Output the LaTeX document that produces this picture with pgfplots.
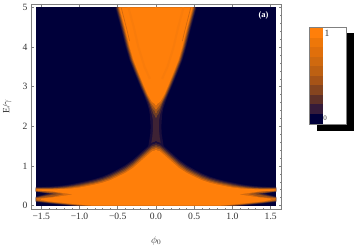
\documentclass[border=0pt]{standalone}
\usepackage{pgfplots}
\usepackage{pgfplotstable}
\usepackage{fontspec}
\setmainfont{Liberation Serif}
\pgfplotsset{compat=1.18}
\definecolor{navy}{HTML}{00003A}
\definecolor{lA}{HTML}{1A0E3C}
\definecolor{lB}{HTML}{3E2234}
\definecolor{lC}{HTML}{6E3E26}
\definecolor{lD}{HTML}{A0541A}
\definecolor{lE}{HTML}{D46A0E}
\definecolor{lF}{HTML}{FF7F0A}
\definecolor{fr}{HTML}{808080}
\definecolor{tx}{HTML}{333333}
% upper cone, half contours (x = half width, y = energy)
\pgfplotstableread[row sep=\\]{x y\\ -0.01 5\\ 0.53 5\\ 0.46 4.5\\ 0.395 4\\ 0.345 3.67\\ 0.275 3.33\\ 0.205 3\\ 0.16 2.8\\ 0.12 2.6\\ 0.095 2.45\\ 0.08 2.3\\ 0.07 2.0\\ 0.075 1.8\\ 0.10 1.5\\ -0.01 1.5\\}\upA
\pgfplotstableread[row sep=\\]{x y\\ -0.01 5\\ 0.52 5\\ 0.45 4.5\\ 0.385 4\\ 0.335 3.67\\ 0.265 3.33\\ 0.195 3\\ 0.15 2.8\\ 0.105 2.6\\ 0.08 2.45\\ 0.055 2.3\\ 0.04 2.15\\ 0.04 1.9\\ 0.05 1.7\\ 0.07 1.5\\ -0.01 1.5\\}\upB
\pgfplotstableread[row sep=\\]{x y\\ -0.01 5\\ 0.51 5\\ 0.44 4.5\\ 0.375 4\\ 0.325 3.67\\ 0.255 3.33\\ 0.185 3\\ 0.14 2.8\\ 0.09 2.6\\ 0.06 2.45\\ 0.03 2.3\\ -0.01 2.22\\}\upC
\pgfplotstableread[row sep=\\]{x y\\ -0.01 5\\ 0.50 5\\ 0.43 4.5\\ 0.365 4\\ 0.315 3.67\\ 0.245 3.33\\ 0.175 3\\ 0.13 2.8\\ 0.08 2.6\\ 0.045 2.45\\ -0.01 2.33\\}\upD
\pgfplotstableread[row sep=\\]{x y\\ -0.01 5\\ 0.49 5\\ 0.42 4.5\\ 0.355 4\\ 0.305 3.67\\ 0.235 3.33\\ 0.165 3\\ 0.12 2.8\\ 0.07 2.6\\ 0.025 2.48\\ -0.01 2.43\\}\upE
\pgfplotstableread[row sep=\\]{x y\\ -0.01 5\\ 0.48 5\\ 0.41 4.5\\ 0.345 4\\ 0.295 3.67\\ 0.225 3.33\\ 0.155 3\\ 0.11 2.8\\ 0.055 2.62\\ -0.01 2.53\\}\upF
% lower hump, half contours
\pgfplotstableread[row sep=\\]{x y\\ -0.01 0\\ -0.01 1.62\\ 0.05 1.59\\ 0.1 1.50\\ 0.2 1.33\\ 0.3 1.16\\ 0.4 1.02\\ 0.5 0.91\\ 0.6 0.81\\ 0.7 0.73\\ 0.8 0.67\\ 0.9 0.62\\ 1.0 0.58\\ 1.1 0.54\\ 1.2 0.51\\ 1.3 0.49\\ 1.4 0.475\\ 1.57 0.47\\ 1.57 0.345\\ 1.42 0.30\\ 1.57 0.225\\ 1.57 0.09\\ 1.4 0.05\\ 1.25 0.02\\ 1.15 0\\}\loA
\pgfplotstableread[row sep=\\]{x y\\ -0.01 0\\ -0.01 1.57\\ 0.05 1.54\\ 0.1 1.46\\ 0.2 1.29\\ 0.3 1.12\\ 0.4 0.985\\ 0.5 0.875\\ 0.6 0.78\\ 0.7 0.70\\ 0.8 0.645\\ 0.9 0.595\\ 1.0 0.555\\ 1.1 0.515\\ 1.2 0.49\\ 1.3 0.47\\ 1.4 0.46\\ 1.57 0.455\\ 1.57 0.35\\ 1.38 0.30\\ 1.57 0.215\\ 1.57 0.10\\ 1.4 0.06\\ 1.25 0.03\\ 1.1 0\\}\loB
\pgfplotstableread[row sep=\\]{x y\\ -0.01 0\\ -0.01 1.53\\ 0.05 1.50\\ 0.1 1.42\\ 0.2 1.25\\ 0.3 1.08\\ 0.4 0.945\\ 0.5 0.84\\ 0.6 0.745\\ 0.7 0.67\\ 0.8 0.615\\ 0.9 0.57\\ 1.0 0.53\\ 1.1 0.495\\ 1.2 0.47\\ 1.3 0.45\\ 1.4 0.445\\ 1.57 0.44\\ 1.57 0.355\\ 1.33 0.30\\ 1.57 0.205\\ 1.57 0.11\\ 1.4 0.07\\ 1.25 0.04\\ 1.05 0\\}\loC
\pgfplotstableread[row sep=\\]{x y\\ -0.01 0\\ -0.01 1.49\\ 0.05 1.46\\ 0.1 1.38\\ 0.2 1.21\\ 0.3 1.04\\ 0.4 0.905\\ 0.5 0.805\\ 0.6 0.71\\ 0.7 0.64\\ 0.8 0.585\\ 0.9 0.545\\ 1.0 0.505\\ 1.1 0.475\\ 1.2 0.45\\ 1.3 0.44\\ 1.4 0.43\\ 1.57 0.43\\ 1.57 0.36\\ 1.27 0.295\\ 1.57 0.195\\ 1.57 0.12\\ 1.4 0.08\\ 1.25 0.05\\ 1.1 0.02\\ 1.0 0\\}\loD
\pgfplotstableread[row sep=\\]{x y\\ -0.01 0\\ -0.01 1.45\\ 0.05 1.42\\ 0.1 1.34\\ 0.2 1.17\\ 0.3 1.00\\ 0.4 0.865\\ 0.5 0.77\\ 0.6 0.675\\ 0.7 0.61\\ 0.8 0.56\\ 0.9 0.52\\ 1.0 0.48\\ 1.1 0.455\\ 1.2 0.435\\ 1.3 0.425\\ 1.4 0.42\\ 1.57 0.42\\ 1.57 0.37\\ 1.35 0.345\\ 1.2 0.29\\ 1.35 0.22\\ 1.57 0.18\\ 1.55 0.13\\ 1.4 0.09\\ 1.25 0.06\\ 1.1 0.03\\ 0.92 0\\}\loE
\pgfplotstableread[row sep=\\]{x y\\ -0.01 0\\ -0.01 1.40\\ 0.05 1.37\\ 0.1 1.29\\ 0.2 1.12\\ 0.3 0.95\\ 0.4 0.825\\ 0.5 0.73\\ 0.6 0.64\\ 0.7 0.575\\ 0.8 0.53\\ 0.9 0.49\\ 1.0 0.455\\ 1.1 0.43\\ 1.2 0.415\\ 1.3 0.41\\ 1.4 0.41\\ 1.55 0.41\\ 1.55 0.38\\ 1.35 0.355\\ 1.08 0.28\\ 1.35 0.205\\ 1.5 0.175\\ 1.5 0.14\\ 1.4 0.105\\ 1.25 0.075\\ 1.1 0.045\\ 0.95 0.015\\ 0.85 0\\}\loF
\newcommand\lay[2]{%
  \addplot[fill=#1,draw=none,forget plot] table[x=x,y=y] {#2};
  \addplot[fill=#1,draw=none,forget plot] table[x expr=-\thisrow{x},y=y] {#2};}
\begin{document}
\begin{tikzpicture}[x=1pt,y=1pt]
\path[use as bounding box] (0,0) rectangle (355,246);
\begin{axis}[
  at={(31pt,37pt)},anchor=south west,
  scale only axis,width=250.5pt,height=205pt,
  xmin=-1.634,xmax=1.641,ymin=-0.088,ymax=5.088,
  axis line style={fr,line width=0.9pt},
  tick align=inside,
  major tick length=2.6pt,minor tick length=1.4pt,
  tick style={fr,line width=0.5pt},
  xtick={-1.5,-1,-0.5,0,0.5,1,1.5},
  xticklabels={−1.5,−1.0,−0.5,0.0,0.5,1.0,1.5},
  ytick={0,1,2,3,4,5},
  yticklabels={0,1,2,3,4,5},
  minor x tick num=4,minor y tick num=4,
  tick label style={font=\fontsize{9.6}{9.6}\selectfont,text=tx},
  xticklabel style={yshift=-1pt},
  xlabel={$\phi_0$},ylabel={E/$\gamma$},
  label style={font=\fontsize{9.6}{9.6}\selectfont,text=tx},
  xlabel style={at={(axis description cs:0.5,-0.155)},anchor=center},
  ylabel style={at={(axis description cs:-0.095,0.5)},anchor=center},
]
\addplot[fill=navy,draw=none,forget plot] coordinates {(-1.57,0) (1.57,0) (1.57,5) (-1.57,5)};
\lay{lA}{\upA}\lay{lB}{\upB}\lay{lC}{\upC}\lay{lD}{\upD}\lay{lE}{\upE}\lay{lF}{\upF}
\lay{lA}{\loA}\lay{lB}{\loB}\lay{lC}{\loC}\lay{lD}{\loD}\lay{lE}{\loE}\lay{lF}{\loF}
% fine structure inside the cone
\addplot[draw=lE,line width=0.7pt,forget plot] coordinates {(-0.455,5) (-0.415,4.7) (-0.375,4.4) (-0.345,4.15)};
\addplot[draw=lE,line width=0.7pt,forget plot] coordinates {(0.455,5) (0.415,4.7) (0.375,4.4) (0.345,4.15)};
\addplot[draw=lF!94!lD,line width=2pt,forget plot] coordinates {(-0.36,5) (-0.29,4.5) (-0.23,4) (-0.15,3.5) (-0.08,3.2)};
\addplot[draw=lF!94!lD,line width=2pt,forget plot] coordinates {(0.36,5) (0.29,4.5) (0.23,4) (0.15,3.5) (0.08,3.2)};
\node[text=white,font=\fontsize{8.5}{8.5}\selectfont\bfseries] at (axis cs:1.405,4.79) {(a)};
\end{axis}
\begin{axis}[
  at={(309pt,115pt)},anchor=south west,
  scale only axis,width=46pt,height=104pt,
  xmin=309,xmax=355,ymin=-131,ymax=-27,
  hide axis,clip=false,
]
\addplot[fill=black,draw=none,forget plot] coordinates {(316.7,-33) (354,-33) (354,-130.7) (316.7,-130.7)};
\addplot[fill=white,draw=fr,line width=0.9pt,forget plot] coordinates {(309.6,-27.6) (346.5,-27.6) (346.5,-124.2) (309.6,-124.2)} -- cycle;
\addplot[fill=lF,draw=none,forget plot] coordinates {(310.2,-28.2) (322.5,-28.2) (322.5,-37.7) (310.2,-37.7)};
\addplot[fill={rgb,255:red,238;green,119;blue,9},draw=none,forget plot] coordinates {(310.2,-37.7) (322.5,-37.7) (322.5,-47.2) (310.2,-47.2)};
\addplot[fill={rgb,255:red,224;green,111;blue,11},draw=none,forget plot] coordinates {(310.2,-47.2) (322.5,-47.2) (322.5,-56.7) (310.2,-56.7)};
\addplot[fill={rgb,255:red,207;green,105;blue,15},draw=none,forget plot] coordinates {(310.2,-56.7) (322.5,-56.7) (322.5,-66.2) (310.2,-66.2)};
\addplot[fill={rgb,255:red,189;green,96;blue,18},draw=none,forget plot] coordinates {(310.2,-66.2) (322.5,-66.2) (322.5,-75.7) (310.2,-75.7)};
\addplot[fill={rgb,255:red,166;green,83;blue,23},draw=none,forget plot] coordinates {(310.2,-75.7) (322.5,-75.7) (322.5,-85.2) (310.2,-85.2)};
\addplot[fill={rgb,255:red,133;green,68;blue,31},draw=none,forget plot] coordinates {(310.2,-85.2) (322.5,-85.2) (322.5,-94.7) (310.2,-94.7)};
\addplot[fill={rgb,255:red,94;green,48;blue,40},draw=none,forget plot] coordinates {(310.2,-94.7) (322.5,-94.7) (322.5,-104.2) (310.2,-104.2)};
\addplot[fill={rgb,255:red,53;green,27;blue,58},draw=none,forget plot] coordinates {(310.2,-104.2) (322.5,-104.2) (322.5,-113.7) (310.2,-113.7)};
\addplot[fill=navy,draw=none,forget plot] coordinates {(310.2,-113.7) (322.5,-113.7) (322.5,-123.6) (310.2,-123.6)};
\node[text=tx,font=\fontsize{9.6}{9.6}\selectfont] at (axis cs:327,-33.5) {1};
\node[text=tx,font=\fontsize{7}{7}\selectfont] at (axis cs:325.2,-118) {0};
\end{axis}
\end{tikzpicture}
\end{document}
